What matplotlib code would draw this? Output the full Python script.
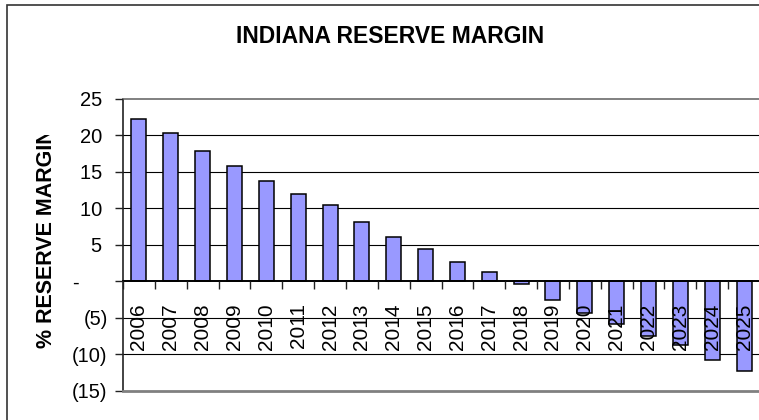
import numpy as np
import matplotlib
matplotlib.use("Agg")
import matplotlib.pyplot as plt
from matplotlib.patches import Rectangle
from matplotlib.ticker import FixedLocator, FuncFormatter
from matplotlib.transforms import Bbox

plt.rcParams['font.family'] = ['Liberation Sans', 'DejaVu Sans']

# reserve margin by year (%)
years = [str(y) for y in range(2006, 2026)]
margin = [22.3, 20.4, 17.8, 15.8, 13.8, 12.0, 10.5, 8.1, 6.1, 4.4,
          2.6, 1.3, -0.4, -2.6, -4.4, -5.9, -7.5, -8.8, -10.8, -12.3]
y_ticks = [-15, -10, -5, 0, 5, 10, 15, 20, 25]

W, H = 759, 420
fig = plt.figure(figsize=(W / 100, H / 100), dpi=100)
ax = fig.add_axes([123 / W, (H - 390.5) / H, 637 / W, 291.5 / H])

x = np.arange(len(years))
ax.bar(x, margin, width=0.47, color='#9999FF', edgecolor='black',
       linewidth=1.1, zorder=2)

# horizontal gridlines behind the bars, tick labels drawn over them
for v in y_ticks[1:-1]:
    if v != 0:
        ax.axhline(v, color='black', linewidth=0.8, zorder=1)
ax.set_axisbelow(False)

ax.set_xlim(-0.5, len(years) - 0.5)
ax.set_ylim(-15, 25)


def accounting(v, pos):
    # excel style accounting numbers
    if v == 0:
        return '-\u2007\u2007 '
    if v < 0:
        return '(%d)' % abs(v)
    return '%d ' % v


ax.yaxis.set_major_locator(FixedLocator(y_ticks))
ax.yaxis.set_major_formatter(FuncFormatter(accounting))
ax.tick_params(axis='y', direction='out', length=6, width=1,
               pad=5, labelsize=14.5, color='#222222')

# year labels under each bar, tick marks between the bars
ax.set_xticks(x)
ax.set_xticklabels(years)
ax.set_xticks(np.arange(-0.5, len(years)), minor=True)
ax.tick_params(axis='x', which='major', length=0, pad=16, labelsize=15,
               labelrotation=90)
ax.tick_params(axis='x', which='minor', direction='out', length=6,
               width=1, color='#222222')

ax.spines['bottom'].set_position(('data', 0))
ax.spines['bottom'].set_linewidth(1.4)
ax.spines['left'].set_linewidth(1.2)
ax.spines['left'].set_color('#222222')
ax.spines['top'].set_color('#808080')
ax.spines['top'].set_linewidth(1.4)
ax.spines['right'].set_visible(False)
ax.axhline(-15, color='#808080', linewidth=2, clip_on=False, zorder=3)

fig.text(390 / W, (H - 43.3) / H, 'INDIANA RESERVE MARGIN', ha='center',
         va='baseline', fontsize=16.5, fontweight='bold')

ylab = fig.text(47 / W, (H - 348) / H, '% RESERVE MARGIN', rotation=90,
                ha='center', va='bottom', fontsize=15.5, fontweight='bold')
ylab.set_clip_box(Bbox.from_extents(0, 0, W, H - 135))
ylab.set_clip_on(True)

fig.patches.append(Rectangle((7 / W, -0.1), 2, (H - 5) / H + 0.1,
                             transform=fig.transFigure, fill=False,
                             edgecolor='#333333', linewidth=1.2))

fig.savefig('out.png', dpi=100)
